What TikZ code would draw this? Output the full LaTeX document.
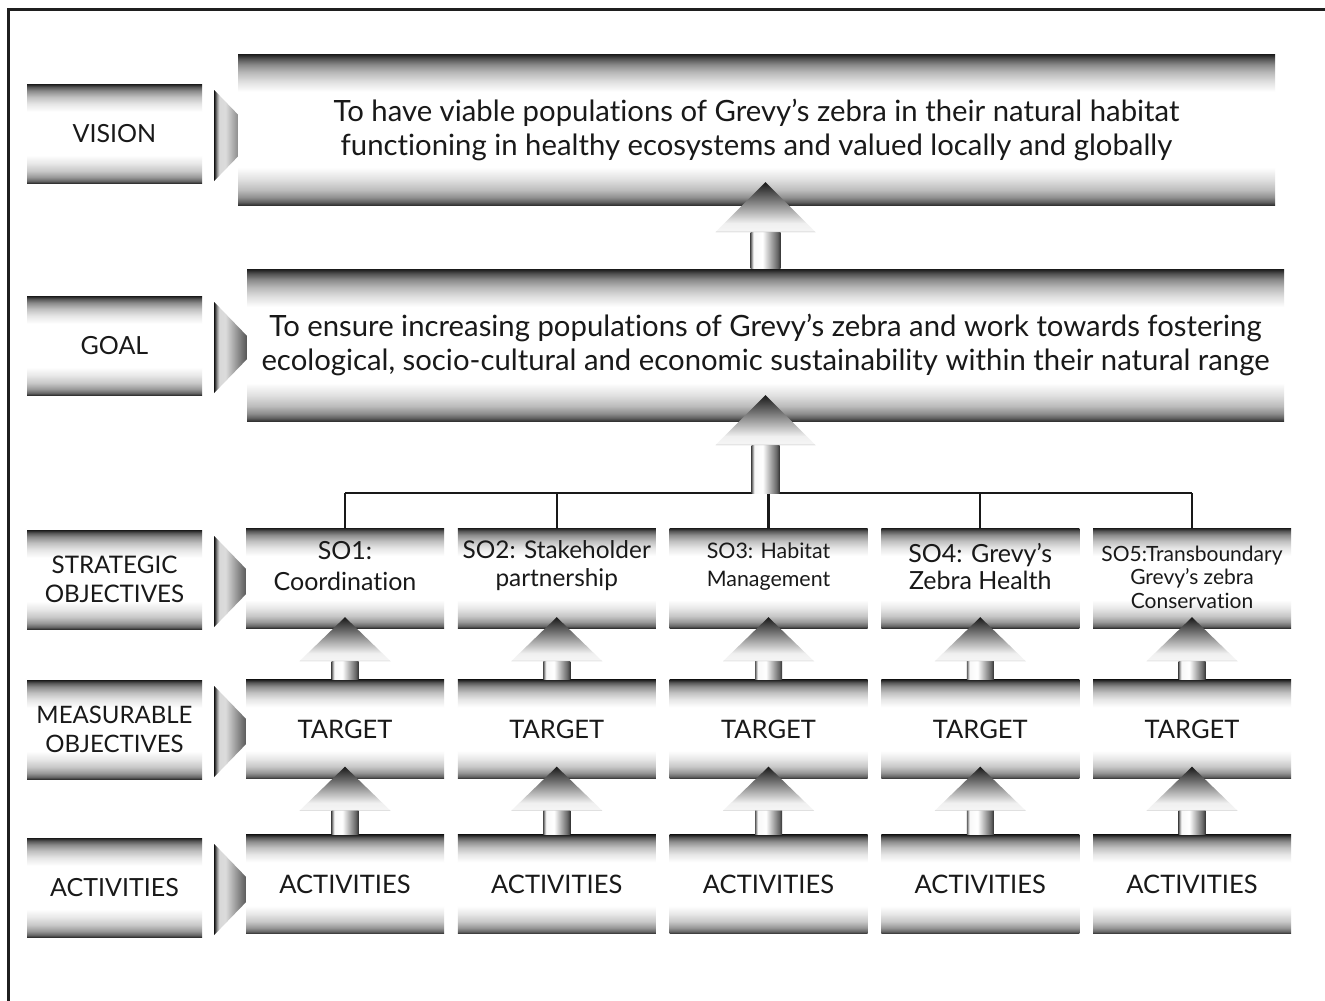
\documentclass[tikz,border=0pt]{standalone}
\usepackage{fontspec}
\setmainfont{Lato}[Ligatures=NoCommon]
\usetikzlibrary{calc}
\pgfdeclareverticalshading{boxshade}{100bp}{color(0bp)=(black!80); color(25bp)=(black!80); color(26bp)=(black!60); color(28bp)=(black!40); color(31bp)=(black!22); color(35bp)=(black!9); color(39bp)=(white); color(61bp)=(white); color(65bp)=(black!10); color(68.5bp)=(black!25); color(71.5bp)=(black!45); color(73.5bp)=(black!66); color(75bp)=(black!90); color(100bp)=(black!90)}
\pgfdeclareverticalshading{bigshade}{100bp}{color(0bp)=(black!80); color(25bp)=(black!80); color(26bp)=(black!62); color(27.5bp)=(black!44); color(30bp)=(black!26); color(33.5bp)=(black!12); color(37.5bp)=(white); color(62.5bp)=(white); color(66bp)=(black!13); color(69bp)=(black!28); color(71.5bp)=(black!46); color(73.5bp)=(black!68); color(75bp)=(black!90); color(100bp)=(black!90)}
\pgfdeclareverticalshading{headshade}{100bp}{color(0bp)=(black!35); color(25bp)=(black!35); color(26.5bp)=(black!4); color(34bp)=(black!6); color(75bp)=(black!90); color(100bp)=(black!90)}
\pgfdeclarehorizontalshading{stemshade}{100bp}{color(0bp)=(black!65); color(25bp)=(black!65); color(30bp)=(black!3); color(45bp)=(white); color(70bp)=(black!60); color(75bp)=(black!80); color(100bp)=(black!80)}
\pgfdeclarehorizontalshading{stripshade}{100bp}{color(0bp)=(black!90); color(25bp)=(black!90); color(50bp)=(black!40); color(75bp)=(black!4); color(100bp)=(black!4)}
\pgfdeclarehorizontalshading{chevshade}{100bp}{color(0bp)=(black!15); color(25bp)=(black!15); color(32bp)=(black!14); color(75bp)=(black!95); color(100bp)=(black!95)}
\tikzset{
  shbox/.style={shade, shading=boxshade, rectangle, inner sep=0pt, align=center, text=black!90},
  lbl/.style={shbox, minimum width=175, minimum height=99, font=\fontsize{25}{29}\selectfont},
  big/.style={shbox, shading=bigshade, minimum width=1037, minimum height=152, font=\fontsize{29.3}{34}\selectfont},
  col/.style={shbox, minimum width=198, minimum height=99},
  sotext/.style={align=center, text=black!90, inner sep=0pt},
  wire/.style={line width=2.2pt, draw=black!90},
  frame/.style={line width=3pt, draw=black!88}
}
\newcommand\chev[1]{%
  \path[shade, shading=stripshade] ($(#1.east)+(12,-43.5)$) -- ($(#1.east)+(18,-37.3)$) -- ($(#1.east)+(18,41.3)$) -- ($(#1.east)+(12,47.5)$) -- cycle;
  \path[shade, shading=chevshade] ($(#1.east)+(18,-37.3)$) -- ($(#1.east)+(56,2)$) -- ($(#1.east)+(18,41.3)$) -- cycle;}
% #1 lower point, #2 upper point, #3 overlap, #4 head height, #5 head half width, #6 stem half width
\newcommand\uparr[6]{%
  \coordinate (ap) at ($(#2)+(0,-#3)$);
  \coordinate (hb) at ($(ap)+(0,#4)$);
  \path[shade, shading=stemshade] ($(hb)+(-#6,0)$) rectangle ($(#1)+(#6,0)$);
  \path[shade, shading=headshade] ($(hb)+(-#5,0)$) -- (ap) -- ($(hb)+(#5,0)$) -- cycle;}
\begin{document}
\begin{tikzpicture}[x=1pt, y=-1pt]
\useasboundingbox (0,0) rectangle (1325,1001);
\fill[white] (0,0) rectangle (1325,1001);
\draw[frame] (8,1001) -- (8,9) -- (1325,9);

% left labels
\node[lbl] (lv) at (114.5,133.5) {VISION};
\node[lbl] (lg) at (114.5,345.5) {GOAL};
\node[lbl, font=\fontsize{24.2}{29}\selectfont] (ls) at (114.5,579.5) {STRATEGIC\\OBJECTIVES};
\node[lbl, font=\fontsize{24}{29}\selectfont] (lm) at (114.5,729.5) {MEASURABLE\\OBJECTIVES};
\node[lbl] (la) at (114.5,887.5) {ACTIVITIES};
\chev{lv}\chev{lg}\chev{ls}\chev{lm}\chev{la}

% main boxes
\node[big, minimum height=151] (vision) at (756.5,129.5) {To have viable populations of Grevy’s zebra in their natural habitat\\functioning in healthy ecosystems and valued locally and globally};
\node[big] (goal) at (765.5,345) {To ensure increasing populations of Grevy’s zebra and work towards fostering\\ecological, socio-cultural and economic sustainability within their natural range};

% strategic objectives
\node[col, minimum height=100] (so1) at (345,578) {};
\node[col, minimum height=100] (so2) at (556.75,578) {};
\node[col, minimum height=100] (so3) at (768.5,578) {};
\node[col, minimum height=100] (so4) at (980.25,578) {};
\node[col, minimum height=100] (so5) at (1192,578) {};
\node[sotext, font=\fontsize{25}{31}\selectfont] (t1) at (345,566) {SO1:\\Coordination};
\node[sotext, font=\fontsize{24.4}{28}\selectfont] (t2) at (556.75,566) {SO2: Stakeholder\\partnership};
\node[sotext, font=\fontsize{21.4}{28}\selectfont] (t3) at (768.5,567) {SO3: Habitat\\Management};
\node[sotext, font=\fontsize{25}{27}\selectfont] (t4) at (980.25,567) {SO4: Grevy’s\\Zebra Health};
\node[sotext, font=\fontsize{21}{23.5}\selectfont] (t5) at (1192,577) {SO5:Transboundary\\Grevy’s zebra\\Conservation};

% targets and activities
\foreach \i/\x in {1/345,2/556.75,3/768.5,4/980.25,5/1192}{
  \node[col, font=\fontsize{25.5}{29}\selectfont] (tg\i) at (\x,729) {TARGET};
  \node[col, font=\fontsize{25.5}{29}\selectfont] (ac\i) at (\x,884) {ACTIVITIES};
}

% bus connector
\coordinate (bus) at ($(goal.south)+(0,72)$);
\draw[wire] (so1.north |- bus) -- (so5.north |- bus);
\foreach \i in {1,...,5}{\draw[wire] (so\i.north |- bus) -- (so\i.north);}

% block arrows
\uparr{goal.north}{vision.south -| goal.north}{23}{50}{50}{15}
\uparr{bus}{goal.south}{26}{50}{50}{14}
\foreach \i in {1,...,5}{
  \uparr{tg\i.north}{so\i.south}{11}{44}{45.5}{13.5}
  \uparr{ac\i.north}{tg\i.south}{12}{44}{45.5}{13.5}
}
\end{tikzpicture}
\end{document}
